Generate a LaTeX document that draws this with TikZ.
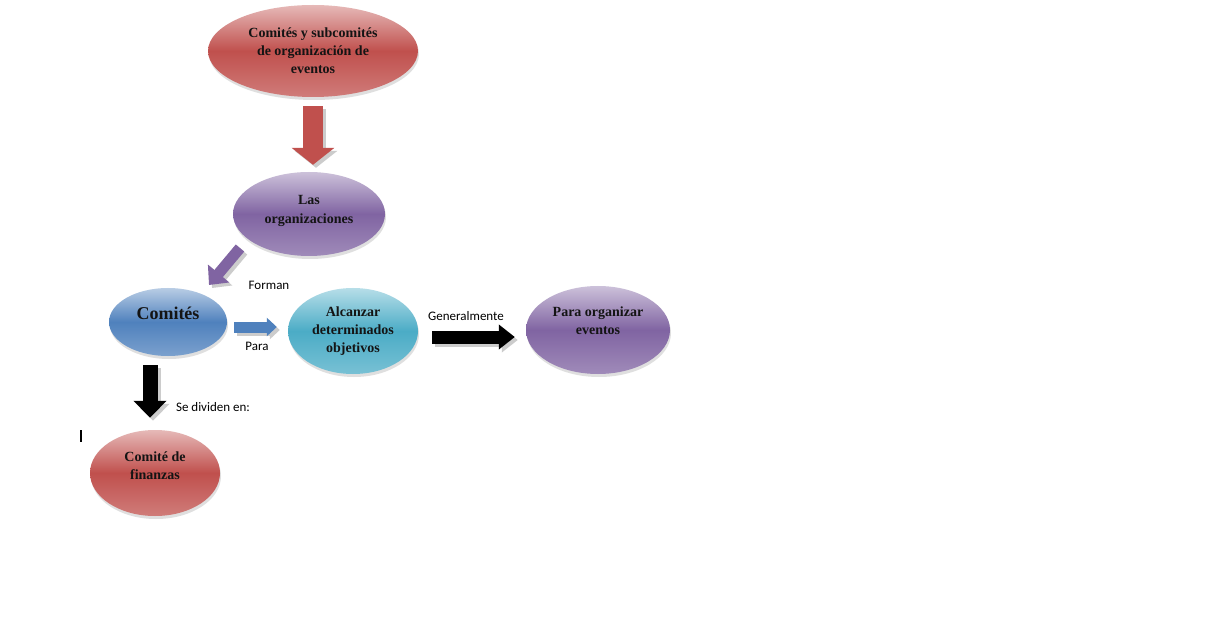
\documentclass[tikz,border=0pt]{standalone}
\usepackage{fontspec}
\setmainfont{Liberation Serif}
\newfontfamily\labelfont{Carlito}
\usetikzlibrary{shapes.geometric}
\usetikzlibrary{arrows.meta}
\usetikzlibrary{shadows}
\usetikzlibrary{calc}

\definecolor{redbase}{RGB}{192,80,77}
\definecolor{purplebase}{RGB}{128,100,162}
\definecolor{bluebase}{RGB}{79,129,189}
\definecolor{tealbase}{RGB}{75,172,198}
\definecolor{textdark}{RGB}{20,20,20}

\tikzset{
  bubble/.style={ellipse,inner sep=0pt,align=center,text=textdark,
    font=\bfseries\fontsize{14}{18}\selectfont,
    top color=#1!40!white,bottom color=#1!75!white,middle color=#1,
    drop shadow={opacity=0.25,shadow xshift=1pt,shadow yshift=-3pt}},
  bigarrow/.style={line width=#1},
  lbl/.style={font=\labelfont\fontsize{13}{15}\selectfont,inner sep=0pt}
}
% block arrow with a grey offset border
\newcommand\blockarrow[3]{%
  \draw[#1,draw=gray!40,transform canvas={shift={(3pt,-3pt)}}] #2 -- #3;
  \draw[#1] #2 -- #3;}

\begin{document}
\begin{tikzpicture}[x=1pt,y=-1pt]
% canvas
\fill[white] (0,0) rectangle (1218,620);
\useasboundingbox (0,0) rectangle (1218,620);
% bubbles
\node[bubble=redbase,minimum width=210,minimum height=92] (top) at (313,51)
  {Comités y subcomités\\de organización de\\eventos};
\node[bubble=purplebase,minimum width=152,minimum height=84,
  font=\bfseries\fontsize{14}{19}\selectfont] (org) at (309,214)
  {Las\\organizaciones\\[-9pt]};
\node[bubble=bluebase,minimum width=118,minimum height=68,
  font=\bfseries\fontsize{18}{20}\selectfont] (com) at (168,322) {Comités\\[-2pt]};
\node[bubble=tealbase,minimum width=130,minimum height=86] (alc) at (353,331)
  {Alcanzar\\determinados\\objetivos};
\node[bubble=purplebase,minimum width=144,minimum height=88] (eve) at (598,330)
  {Para organizar\\eventos\\};
\node[bubble=redbase,minimum width=130,minimum height=86] (fin) at (155,473)
  {Comité de\\finanzas\\[-4pt]};
% arrows
\blockarrow{bigarrow=20pt,redbase,-{Triangle[length=17pt,width=42pt]}}
  {($(top.south)+(0,9)$)}{($(top.south |- org.north)+(0,-7)$)}
\blockarrow{bigarrow=11pt,purplebase,-{Triangle[length=15pt,width=27pt]}}
  {($(org)+(-69,34)$)}{($(com)+(41,-37)$)}
\blockarrow{bigarrow=11pt,bluebase,-{Triangle[length=10pt,width=18pt]}}
  {($(com.east)+(7,5)$)}{($(alc.west)+(-11,-4)$)}
\blockarrow{bigarrow=13pt,black,-{Triangle[length=16pt,width=24pt]}}
  {($(alc.east)+(14,6)$)}{($(eve.west)+(-11,7)$)}
\blockarrow{bigarrow=15pt,black,-{Triangle[length=17pt,width=32pt]}}
  {($(com.south)+(-18,9)$)}{($(fin.north)+(-5,-12)$)}
% labels
\node[lbl] (forman) at (269,285) {Forman};
\node[lbl] (para) at (257,346) {Para};
\node[lbl] (gen) at (466,316) {Generalmente};
\node[lbl] (sediv) at (213,407) {Se dividen en:};
% cursor
\draw[line width=1.5pt] (81,430) -- (81,442);
\end{tikzpicture}
\end{document}
